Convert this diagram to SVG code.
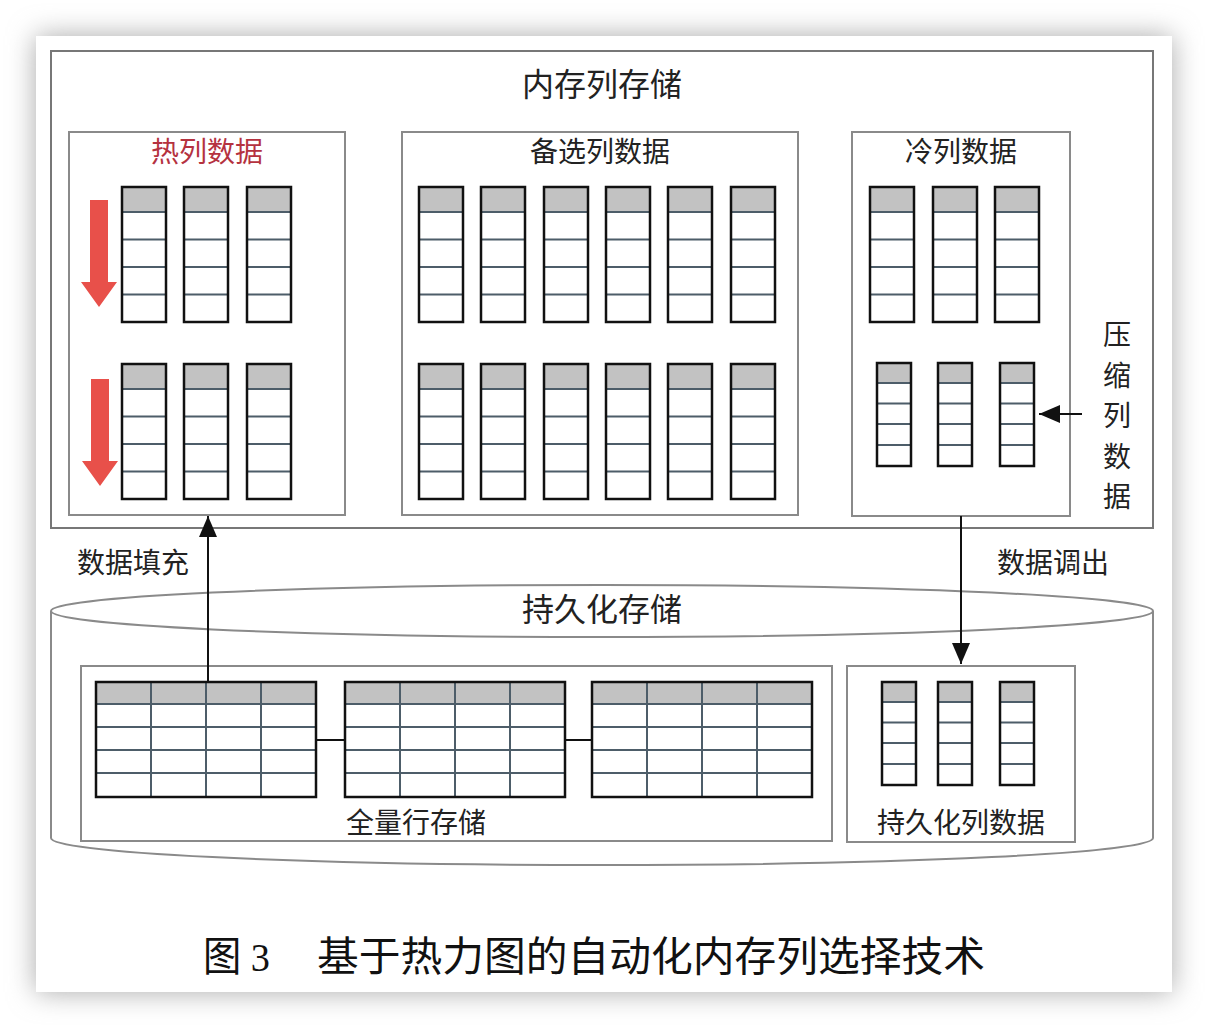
<svg xmlns="http://www.w3.org/2000/svg" xmlns:xlink="http://www.w3.org/1999/xlink" width="1208" height="1028" viewBox="0 0 1208 1028">
<style>
text{font-family:"Noto Sans CJK SC","Liberation Sans",sans-serif;fill:#222;text-anchor:middle}
.box{fill:#fff;stroke:#8a8a8a;stroke-width:2}
.outer{fill:#fff;stroke:#777;stroke-width:2}
.hdr{fill:#c2c2c2}
.cell{fill:#fff}
.inner{stroke:#4d5d69;stroke-width:2;fill:none}
.edge{fill:none;stroke:#111;stroke-width:2.5}
.conn{stroke:#111;stroke-width:2;fill:none}
.red{fill:#e8504a}
.t1{font-size:32px}
.t2{font-size:28px}
.cap{font-family:"Liberation Serif","Noto Sans CJK SC",serif;font-size:41px;fill:#111;text-anchor:start}
</style>
<defs>
<filter id="sh" x="-10%" y="-10%" width="120%" height="120%"><feGaussianBlur stdDeviation="14"/></filter>
<g id="colL">
<rect class="cell" x="0" y="0" width="44" height="135"/>
<rect class="hdr" x="0" y="0" width="44" height="25"/>
<path class="inner" d="M0 25H44M0 52.5H44M0 80H44M0 107.5H44M0 0V135"/>
<rect class="edge" x="0" y="0" width="44" height="135"/>
</g>
<g id="colS">
<rect class="cell" x="0" y="0" width="34" height="103"/>
<rect class="hdr" x="0" y="0" width="34" height="20"/>
<path class="inner" d="M0 20H34M0 40.5H34M0 61H34M0 82H34M0 0V103"/>
<rect class="edge" x="0" y="0" width="34" height="103"/>
</g>
<g id="tbl">
<rect class="cell" x="0" y="0" width="220" height="115"/>
<rect class="hdr" x="0" y="0" width="220" height="22"/>
<path class="inner" d="M0 22H220M0 45H220M0 68H220M0 91H220M55 0V115M110 0V115M165 0V115"/>
<rect class="edge" x="0" y="0" width="220" height="115"/>
</g>
<marker id="ah" viewBox="0 0 21 18" refX="21" refY="9" markerWidth="21" markerHeight="18" markerUnits="userSpaceOnUse" orient="auto">
<path d="M0 0L21 9L0 18Z" fill="#111"/>
</marker>
</defs>

<rect x="0" y="0" width="1208" height="1028" fill="#fff"/>
<rect x="36" y="36" width="1136" height="956" fill="#a8a8a8" filter="url(#sh)"/>
<rect x="36" y="36" width="1136" height="956" fill="#fff"/>

<g id="memory">
<rect class="outer" x="51" y="51" width="1102" height="477"/>
<text class="t1" x="602" y="96">内存列存储</text>
</g>

<g id="hot">
<rect class="box" x="69" y="132" width="276" height="383"/>
<text class="t2" x="207" y="162" style="fill:#b5323f">热列数据</text>
<use xlink:href="#colL" x="122" y="187"/>
<use xlink:href="#colL" x="184" y="187"/>
<use xlink:href="#colL" x="247" y="187"/>
<use xlink:href="#colL" x="122" y="364"/>
<use xlink:href="#colL" x="184" y="364"/>
<use xlink:href="#colL" x="247" y="364"/>
<path class="red" d="M90 200H108V282H117L99 307L81 282H90Z"/>
<path class="red" d="M91 379H109V461H118L100 486L82 461H91Z"/>
</g>

<g id="candidate">
<rect class="box" x="402" y="132" width="396" height="383"/>
<text class="t2" x="600" y="162">备选列数据</text>
<use xlink:href="#colL" x="419" y="187"/>
<use xlink:href="#colL" x="481" y="187"/>
<use xlink:href="#colL" x="544" y="187"/>
<use xlink:href="#colL" x="606" y="187"/>
<use xlink:href="#colL" x="668" y="187"/>
<use xlink:href="#colL" x="731" y="187"/>
<use xlink:href="#colL" x="419" y="364"/>
<use xlink:href="#colL" x="481" y="364"/>
<use xlink:href="#colL" x="544" y="364"/>
<use xlink:href="#colL" x="606" y="364"/>
<use xlink:href="#colL" x="668" y="364"/>
<use xlink:href="#colL" x="731" y="364"/>
</g>

<g id="cold">
<rect class="box" x="852" y="132" width="218" height="384"/>
<text class="t2" x="961" y="162">冷列数据</text>
<use xlink:href="#colL" x="870" y="187"/>
<use xlink:href="#colL" x="933" y="187"/>
<use xlink:href="#colL" x="995" y="187"/>
<use xlink:href="#colS" x="877" y="363"/>
<use xlink:href="#colS" x="938" y="363"/>
<use xlink:href="#colS" x="1000" y="363"/>
</g>

<g id="compressed-label">
<text class="t2" x="1117"><tspan x="1117" y="345">压</tspan><tspan x="1117" y="386">缩</tspan><tspan x="1117" y="426">列</tspan><tspan x="1117" y="467">数</tspan><tspan x="1117" y="507">据</tspan></text>
</g>

<g id="persistent">
<path d="M51 611V838A551 27 0 0 0 1153 838V611" fill="#fff" stroke="#8a8a8a" stroke-width="2"/>
<ellipse cx="602" cy="611" rx="551" ry="26" fill="#fff" stroke="#8a8a8a" stroke-width="2"/>
<text class="t1" x="602" y="621">持久化存储</text>
</g>

<g id="rowstore">
<rect class="box" x="81" y="666" width="751" height="175"/>
<use xlink:href="#tbl" x="96" y="682"/>
<use xlink:href="#tbl" x="345" y="682"/>
<use xlink:href="#tbl" x="592" y="682"/>
<path class="conn" d="M316 740H345M565 740H592"/>
<text class="t2" x="416" y="833">全量行存储</text>
</g>

<g id="colstore">
<rect class="box" x="847" y="666" width="228" height="176"/>
<use xlink:href="#colS" x="882" y="682"/>
<use xlink:href="#colS" x="938" y="682"/>
<use xlink:href="#colS" x="1000" y="682"/>
<text class="t2" x="961" y="833">持久化列数据</text>
</g>

<g id="connectors">
<line class="conn" x1="208" y1="682" x2="208" y2="516" marker-end="url(#ah)"/>
<line class="conn" x1="961" y1="516" x2="961" y2="664" marker-end="url(#ah)"/>
<line class="conn" x1="1082" y1="414" x2="1039" y2="414" marker-end="url(#ah)"/>
<text class="t2" x="133" y="573">数据填充</text>
<text class="t2" x="1053" y="573">数据调出</text>
</g>

<g id="caption">
<text class="cap" x="203" y="971" textLength="67" lengthAdjust="spacingAndGlyphs">图 3</text>
<text class="cap" x="317" y="971" textLength="668" lengthAdjust="spacingAndGlyphs">基于热力图的自动化内存列选择技术</text>
</g>
</svg>
